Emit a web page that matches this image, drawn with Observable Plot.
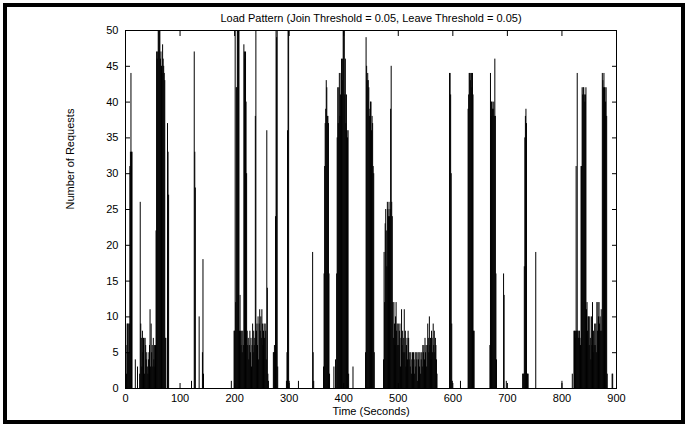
<!DOCTYPE html>
<html>
<head>
<meta charset="utf-8">
<script src="https://cdn.jsdelivr.net/npm/d3@7"></script>
<script src="https://cdn.jsdelivr.net/npm/@observablehq/plot@0.6"></script>
<style>
html, body { margin: 0; padding: 0; background: #fff; }
#wrap { position: relative; width: 691px; height: 426px; overflow: hidden; }
#border { position: absolute; left: 3px; top: 3px; width: 682px; height: 421px; box-sizing: border-box; border: 4px solid #000; }
#chart { position: absolute; left: 0; top: 0; }
</style>
</head>
<body>
<div id="wrap"><div id="border"></div><div id="chart"></div></div>
<script>
// ---- chart text ----
const titleText = "Load Pattern (Join Threshold = 0.05, Leave Threshold = 0.05)";
const xLabel = "Time (Seconds)";
const yLabel = "Number of Requests";
const xTicks = [0, 100, 200, 300, 400, 500, 600, 700, 800, 900];
const yTicks = [0, 5, 10, 15, 20, 25, 30, 35, 40, 45, 50];

// ---- isolated impulses (second, requests) ----
const spikeSeconds  = [18, 22, 121, 126, 127, 128, 135, 141, 142, 143, 194, 317, 343, 344, 345, 382, 385, 417, 614, 693, 694, 698, 752, 800, 819, 892, 893];
const spikeRequests = [ 4,  3,   1,  47,  33,  28,  10,   5,  18,   2,   1,   1,  19,   5,   1,   3,   4,   3,   1,  16,  13,   1,  19,   1,   2,   2,   2];

// ---- bursts: one value per second from the start second ----
const burstAStart = 0;
const burstA = [6, 6, 2, 9, 9, 5, 9, 9, 31, 33, 44, 33, 33];
const burstBStart = 26;
const burstB = [2, 26, 9, 7, 3, 8, 5, 7, 7, 2, 7, 6, 4, 5, 3, 2, 4, 5, 6, 11, 3, 9, 5, 6, 3, 7, 4, 6, 3, 6];
const burstCStart = 56;
const burstC = [22, 47, 46, 47, 50, 50, 50, 50, 46, 47, 45, 44, 48, 46, 45, 44, 43, 7, 7];
const burstDStart = 77;
const burstD = [37, 33, 27];
const burstEStart = 199;
const burstE = [8, 8, 50, 12, 42, 42, 50, 50, 50, 50, 8, 13, 8, 6, 8, 5, 8, 6, 48, 47, 46, 47, 40, 30, 8, 6, 7, 4, 6, 8, 5, 7, 3, 6, 9, 5, 8, 6, 7, 38, 50, 8, 9, 6, 10, 4, 9, 11, 8, 10, 7, 11, 9, 6, 8, 9, 7, 9, 8, 4, 36, 14, 2, 1];
const burstFStart = 271;
const burstF = [5, 5, 6, 5, 24, 50, 49, 50, 3];
const burstGStart = 295;
const burstG = [1, 5, 36, 50, 50, 1];
const burstHStart = 363;
const burstH = [3, 16, 31, 37, 39, 43, 42, 38, 38, 37, 16, 2];
const burstIStart = 387;
const burstI = [16, 35, 42, 37, 42, 44, 38, 41, 44, 46, 43, 46, 50, 50, 50, 41, 46, 37, 41, 36, 35, 36, 2];
const burstJStart = 440;
const burstJ = [5, 49, 45, 43, 44, 43, 42, 38, 39, 40, 40, 36, 38, 37, 31, 30, 5];
const burstKStart = 473;
const burstK = [4, 19, 12, 23, 25, 22, 17, 26, 25, 24,
                26, 24, 25, 39, 45, 26, 24, 12, 7, 12,
                9, 6, 10, 12, 8, 9, 6, 9, 6, 8,
                9, 3, 7, 11, 6, 8, 5, 7, 11, 5,
                8, 3, 6, 7, 4, 8, 7, 4, 5, 3,
                5, 2, 4, 5, 3, 5, 4, 2, 5, 3,
                5, 4, 1, 5, 4, 5, 3, 5, 2, 4,
                5, 3, 6, 5, 6, 4, 7, 5, 6, 3,
                6, 9, 7, 5, 10, 6, 7, 4, 8, 7,
                5, 9, 6, 8, 5, 7, 6, 4, 2];
const burstLStart = 594;
const burstL = [44, 44, 41, 30, 9, 1];
const burstMStart = 628;
const burstM = [39, 41, 44, 44, 43, 44, 44, 42, 44, 41, 8, 8];
const burstNStart = 668;
const burstN = [6, 44, 38, 40, 40, 39, 39, 40, 38, 46, 38, 16, 4];
const burstOStart = 728;
const burstO = [2, 2, 2, 17, 35, 38, 39, 37, 2, 2, 2];
const burstPStart = 822;
const burstP = [8, 8, 7, 8, 31, 8, 44, 8, 7, 8,
                8, 7, 6, 31, 31, 42, 41, 42, 42, 41,
                40, 41, 42, 11, 12, 8, 10, 10, 6, 10,
                7, 4, 10, 6, 12, 5, 8, 6, 9, 6,
                9, 5, 12, 8, 12, 10, 12, 9, 10, 8,
                11, 8, 44, 43, 42, 44, 42, 42, 40, 42,
                38, 2];

// ---- build the table ----
const bursts = [
  [burstAStart, burstA], [burstBStart, burstB], [burstCStart, burstC], [burstDStart, burstD],
  [burstEStart, burstE], [burstFStart, burstF], [burstGStart, burstG], [burstHStart, burstH],
  [burstIStart, burstI], [burstJStart, burstJ], [burstKStart, burstK], [burstLStart, burstL],
  [burstMStart, burstM], [burstNStart, burstN], [burstOStart, burstO], [burstPStart, burstP]
];
const data = [];
for (const [start, values] of bursts) values.forEach((v, i) => data.push({t: start + i, v}));
spikeSeconds.forEach((t, i) => data.push({t, v: spikeRequests[i]}));

const noText = () => "";
const chart = Plot.plot({
  width: 691,
  height: 426,
  marginLeft: 125,
  marginRight: 75,
  marginTop: 30,
  marginBottom: 38,
  style: {fontFamily: "'Liberation Sans', Arial, Helvetica, sans-serif", fontSize: "11px", background: "transparent", color: "#000"},
  x: {domain: [0, 900], label: null},
  y: {domain: [0, 50], label: null},
  marks: [
    Plot.ruleX(data, {x: "t", y1: 0, y2: "v", stroke: "#000", strokeWidth: 1}),
    Plot.frame({stroke: "#000"}),
    Plot.axisX({ticks: xTicks, tickSize: 0, tickPadding: 6, label: null}),
    Plot.axisX({anchor: "bottom", ticks: xTicks, tickSize: -5, tickFormat: noText, label: null}),
    Plot.axisX({anchor: "top", ticks: xTicks, tickSize: -5, tickFormat: noText, label: null}),
    Plot.axisY({ticks: yTicks, tickSize: 0, tickPadding: 7, label: null}),
    Plot.axisY({anchor: "left", ticks: yTicks, tickSize: -5, tickFormat: noText, label: null}),
    Plot.axisY({anchor: "right", ticks: yTicks, tickSize: -5, tickFormat: noText, label: null}),
    Plot.text([titleText], {frameAnchor: "top", lineAnchor: "middle", dy: -12, fontSize: 11}),
    Plot.text([xLabel], {frameAnchor: "bottom", lineAnchor: "middle", dy: 23, fontSize: 11}),
    Plot.text([yLabel], {frameAnchor: "left", lineAnchor: "middle", dx: -55, rotate: -90, fontSize: 11})
  ]
});
document.getElementById("chart").appendChild(chart);
</script>
</body>
</html>
